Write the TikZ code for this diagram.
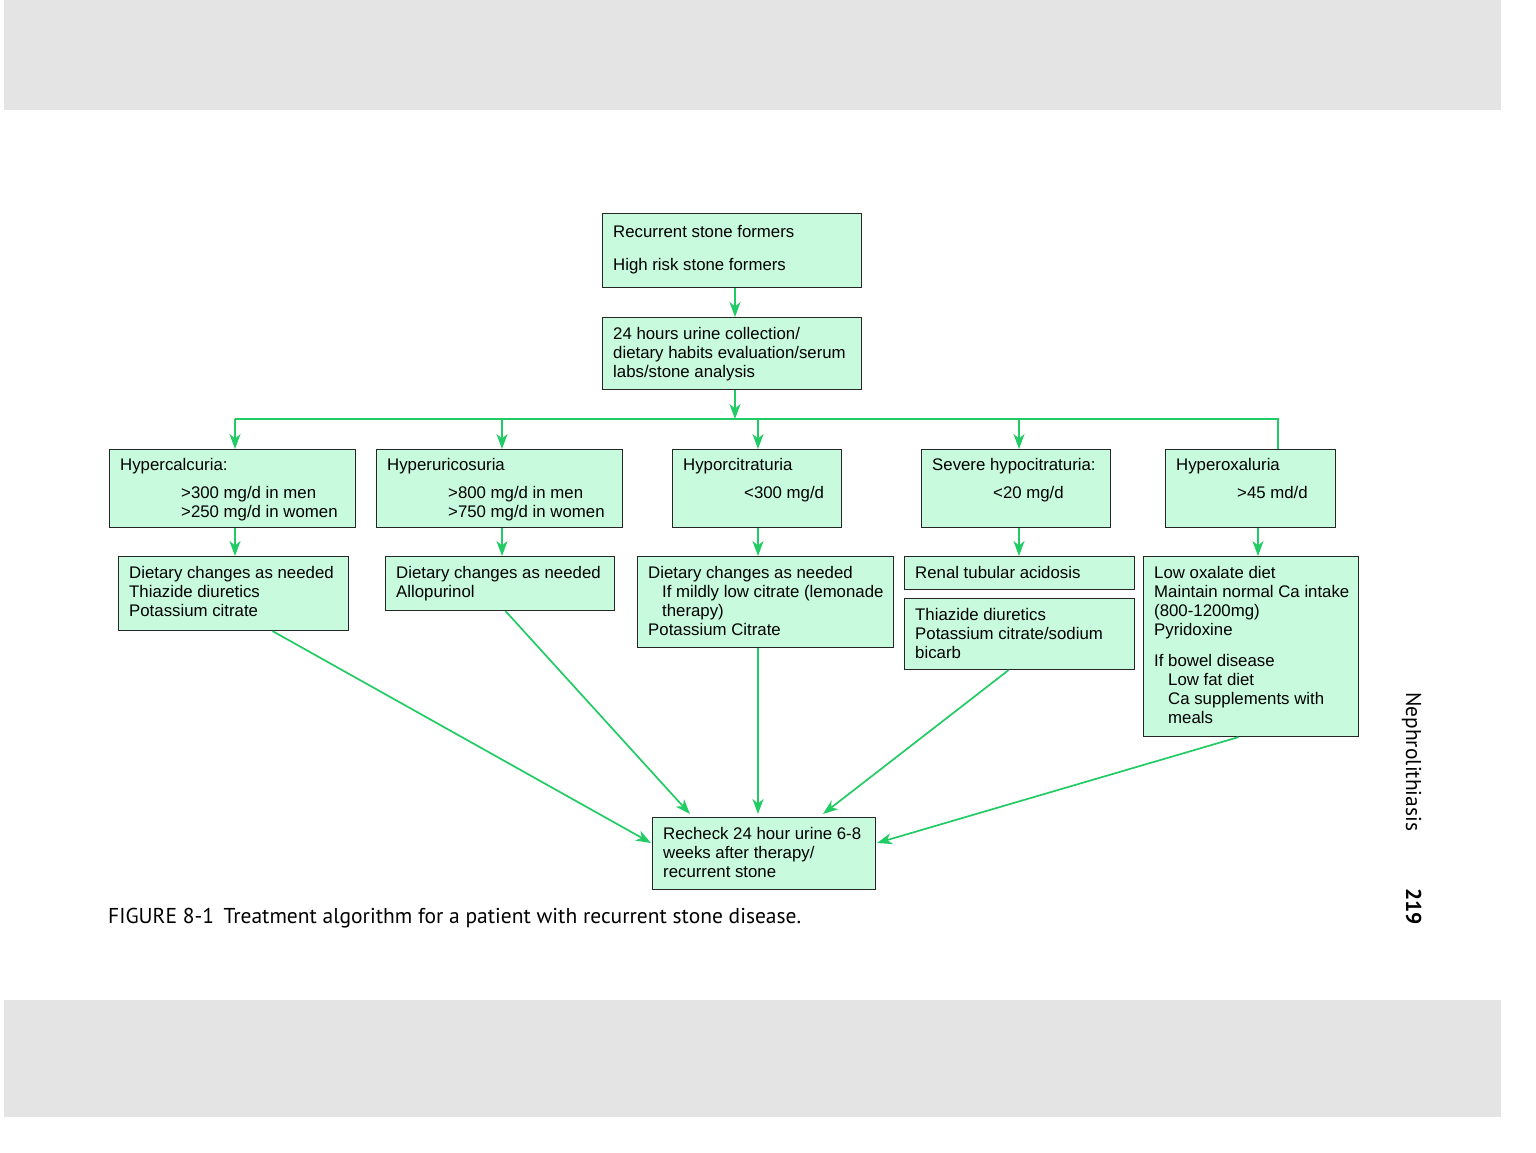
\documentclass[tikz,border=0pt]{standalone}
\usepackage{fontspec}
\setmainfont{Liberation Sans}
\newfontfamily\capfont{PT Sans}
\usetikzlibrary{arrows.meta,calc}
\definecolor{lgreen}{RGB}{34,204,100}
\definecolor{boxfill}{RGB}{200,250,222}
\definecolor{bandgray}{RGB}{228,228,228}
\tikzset{
  box/.style={draw=black!85, line width=1.1pt, fill=boxfill, rectangle, inner sep=0pt, anchor=north west},
  txt/.style={inner sep=0pt, anchor=north west, align=left, font=\fontsize{16.8}{19}\selectfont},
  conn/.style={draw=lgreen, line width=1.7pt},
  arr/.style={conn, -{Stealth[length=15pt,width=11pt,inset=4.5pt]}},
}
\begin{document}
\begin{tikzpicture}[x=1pt,y=-1pt]
\useasboundingbox (0,0) rectangle (1536,1152);
\fill[white] (0,0) rectangle (1536,1152);
\fill[bandgray] (4,0) rectangle (1501,110);
\fill[bandgray] (4,1000) rectangle (1501,1117);

% top boxes
\node[box, minimum width=259pt, minimum height=74pt] (rs) at (602,213) {};
\node[txt] (rst) at ([shift={(11,10.5)}]rs.north west) {\strut Recurrent stone formers\\[14pt]High risk stone formers};
\node[box, minimum width=259pt, minimum height=72pt] (uc) at (602,317) {};
\node[txt] (uct) at ([shift={(11,8.5)}]uc.north west) {\strut 24 hours urine collection/\\dietary habits evaluation/serum\\labs/stone analysis};

% row 2
\node[box, minimum width=246pt, minimum height=78pt] (hc) at (109,449) {};
\node[txt] (hct) at ([shift={(11,7.5)}]hc.north west) {\strut Hypercalcuria:\\[9pt]\hspace*{61pt}>300 mg/d in men\\\hspace*{61pt}>250 mg/d in women};
\node[box, minimum width=246pt, minimum height=78pt] (hu) at (376,449) {};
\node[txt] (hut) at ([shift={(11,7.5)}]hu.north west) {\strut Hyperuricosuria\\[9pt]\hspace*{61pt}>800 mg/d in men\\\hspace*{61pt}>750 mg/d in women};
\node[box, minimum width=169pt, minimum height=78pt] (hy) at (672,449) {};
\node[txt] (hyt) at ([shift={(11,7.5)}]hy.north west) {\strut Hyporcitraturia\\[9pt]\hspace*{61pt}<300 mg/d};
\node[box, minimum width=189pt, minimum height=78pt] (sh) at (921,449) {};
\node[txt] (sht) at ([shift={(11,7.5)}]sh.north west) {\strut Severe hypocitraturia:\\[9pt]\hspace*{61pt}<20 mg/d};
\node[box, minimum width=170pt, minimum height=78pt] (hox) at (1165,449) {};
\node[txt] (hoxt) at ([shift={(11,7.5)}]hox.north west) {\strut Hyperoxaluria\\[9pt]\hspace*{61pt}>45 md/d};

% row 3
\node[box, minimum width=230pt, minimum height=74pt] (t1) at (118,556) {};
\node[txt] (t1t) at ([shift={(11,9)}]t1.north west) {\strut Dietary changes as needed\\Thiazide diuretics\\Potassium citrate};
\node[box, minimum width=229pt, minimum height=54pt] (t2) at (385,556) {};
\node[txt] (t2t) at ([shift={(11,9)}]t2.north west) {\strut Dietary changes as needed\\Allopurinol};
\node[box, minimum width=256pt, minimum height=91pt] (t3) at (637,556) {};
\node[txt] (t3t) at ([shift={(11,9)}]t3.north west) {\strut Dietary changes as needed\\\hspace*{14pt}If mildly low citrate (lemonade\\\hspace*{14pt}therapy)\\Potassium Citrate};
\node[box, minimum width=230pt, minimum height=33pt] (t4a) at (904,556) {};
\node[txt] (t4at) at ([shift={(11,9)}]t4a.north west) {\strut Renal tubular acidosis};
\node[box, minimum width=230pt, minimum height=71pt] (t4b) at (904,598) {};
\node[txt] (t4bt) at ([shift={(11,9)}]t4b.north west) {\strut Thiazide diuretics\\Potassium citrate/sodium\\bicarb};
\node[box, minimum width=215pt, minimum height=180pt] (t5) at (1143,556) {};
\node[txt] (t5t) at ([shift={(11,9)}]t5.north west) {\strut Low oxalate diet\\Maintain normal Ca intake\\(800-1200mg)\\Pyridoxine\\[12pt]If bowel disease\\\hspace*{14pt}Low fat diet\\\hspace*{14pt}Ca supplements with\\\hspace*{14pt}meals};

% final
\node[box, minimum width=223pt, minimum height=72pt] (rc) at (652,817) {};
\node[txt] (rct) at ([shift={(11,8.5)}]rc.north west) {\strut Recheck 24 hour urine 6-8\\weeks after therapy/\\recurrent stone};

% connectors
\draw[arr] (rs.south -| 735,0) -- (uc.north -| 735,0);
\coordinate (bus0) at (735,419);
\coordinate (bL) at (235,419);
\coordinate (bR) at (1278,419);
\coordinate (x2) at (502,419);
\coordinate (x3) at (758,419);
\coordinate (x4) at (1019,419);
\coordinate (x5) at (1258,419);
\draw[arr] (uc.south -| bus0) -- (bus0);
\draw[conn] (bL) -- (bR) -- (bR |- hox.north);
\draw[arr] (bL) -- (bL |- hc.north);
\draw[arr] (x2) -- (x2 |- hu.north);
\draw[arr] (x3) -- (x3 |- hy.north);
\draw[arr] (x4) -- (x4 |- sh.north);

\draw[arr] (bL |- hc.south) -- (bL |- t1.north);
\draw[arr] (x2 |- hu.south) -- (x2 |- t2.north);
\draw[arr] (x3 |- hy.south) -- (x3 |- t3.north);
\draw[arr] (x4 |- sh.south) -- (x4 |- t4a.north);
\draw[arr] (x5 |- hox.south) -- (x5 |- t5.north);

\coordinate (e1) at (651,843);
\coordinate (e2) at (690,814);
\coordinate (e4) at (823,814);
\coordinate (e5) at (877,843);
\draw[arr] ([xshift=39pt]t1.south) -- (e1);
\draw[arr] ([xshift=5.5pt]t2.south) -- (e2);
\draw[arr] (x3 |- t3.south) -- ([yshift=3pt]x3 |- rc.north);
\draw[arr] ([xshift=-11pt]t4b.south) -- (e4);
\draw[arr] ([xshift=-12.5pt]t5.south) -- (e5);

% caption and side text
\node[inner sep=0pt, anchor=base west, font=\capfont\fontsize{21.5}{24}\selectfont] (cap) at (108,923) {FIGURE 8-1\hspace{0.45em}Treatment algorithm for a patient with recurrent stone disease.};
\node[inner sep=0pt, anchor=base west, rotate=-90, font=\capfont\fontsize{21.5}{24}\selectfont] (side) at (1406,692) {Nephrolithiasis};
\node[inner sep=0pt, anchor=base west, rotate=-90, font=\capfont\bfseries\fontsize{21.5}{24}\selectfont] (pg) at (1406,888) {219};
\end{tikzpicture}
\end{document}
